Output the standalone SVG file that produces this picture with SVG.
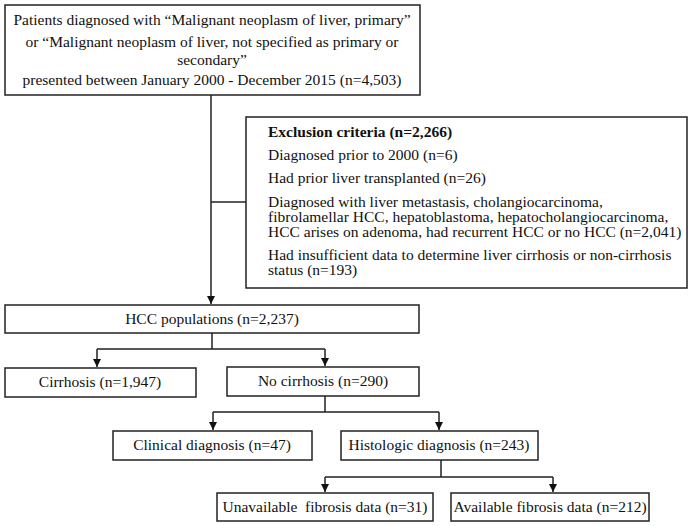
<svg xmlns="http://www.w3.org/2000/svg" width="692" height="526" viewBox="0 0 692 526">
<style>
.box{fill:#fff;stroke:#222;stroke-width:1.5}
.t{font-family:"Liberation Serif","Times New Roman",serif;font-size:15.5px;fill:#111}
.c{text-anchor:middle}
.b{font-weight:bold}
.ln{fill:none;stroke:#222;stroke-width:1.5}
</style>
<defs>
<marker id="ah" viewBox="0 0 10 10" refX="10" refY="5" markerWidth="8" markerHeight="8" markerUnits="userSpaceOnUse" orient="auto">
<path d="M0,0 L10,5 L0,10 z" fill="#111"/>
</marker>
</defs>
<rect width="692" height="526" fill="#fff"/>
<g id="connectors">
<path class="ln" d="M211,95 V304" marker-end="url(#ah)"/>
<path class="ln" d="M211,202 H246"/>
<path class="ln" d="M212,333 V349 M97,349 H325"/>
<path class="ln" d="M97,349 V367" marker-end="url(#ah)"/>
<path class="ln" d="M325,349 V366" marker-end="url(#ah)"/>
<path class="ln" d="M325,396 V412 M213,412 H439"/>
<path class="ln" d="M213,412 V430" marker-end="url(#ah)"/>
<path class="ln" d="M439,412 V430" marker-end="url(#ah)"/>
<path class="ln" d="M441,460 V477 M325,477 H553"/>
<path class="ln" d="M325,477 V492" marker-end="url(#ah)"/>
<path class="ln" d="M553,477 V492" marker-end="url(#ah)"/>
</g>
<g id="source">
<rect class="box" x="5" y="5" width="415" height="90"/>
<text class="t c" x="212" y="25">Patients diagnosed with “Malignant neoplasm of liver, primary”</text>
<text class="t c" x="212" y="47">or “Malignant neoplasm of liver, not specified as primary or</text>
<text class="t c" x="212" y="65">secondary”</text>
<text class="t c" x="212" y="85">presented between January 2000 - December 2015 (n=4,503)</text>
</g>
<g id="exclusion">
<rect class="box" x="246" y="117" width="441" height="171"/>
<text class="t b" x="268" y="137">Exclusion criteria (n=2,266)</text>
<text class="t" x="268" y="160">Diagnosed prior to 2000 (n=6)</text>
<text class="t" x="268" y="183">Had prior liver transplanted (n=26)</text>
<text class="t" x="268" y="207">Diagnosed with liver metastasis, cholangiocarcinoma,</text>
<text class="t" x="268" y="222">fibrolamellar HCC, hepatoblastoma, hepatocholangiocarcinoma,</text>
<text class="t" x="268" y="237">HCC arises on adenoma, had recurrent HCC or no HCC (n=2,041)</text>
<text class="t" x="268" y="260">Had insufficient data to determine liver cirrhosis or non-cirrhosis</text>
<text class="t" x="268" y="275">status (n=193)</text>
</g>
<g id="hcc">
<rect class="box" x="5" y="305" width="414" height="28"/>
<text class="t c" x="212" y="324">HCC populations (n=2,237)</text>
</g>
<g id="cirrhosis">
<rect class="box" x="5" y="368" width="191" height="29"/>
<text class="t c" x="100" y="387">Cirrhosis (n=1,947)</text>
</g>
<g id="nocirrhosis">
<rect class="box" x="227" y="367" width="192" height="29"/>
<text class="t c" x="323" y="386">No cirrhosis (n=290)</text>
</g>
<g id="clinical">
<rect class="box" x="113" y="431" width="199" height="29"/>
<text class="t c" x="212" y="450">Clinical diagnosis (n=47)</text>
</g>
<g id="histologic">
<rect class="box" x="341" y="431" width="197" height="29"/>
<text class="t c" x="439" y="450">Histologic diagnosis (n=243)</text>
</g>
<g id="unavailable">
<rect class="box" x="217" y="493" width="216" height="28"/>
<text class="t c" x="325" y="512" xml:space="preserve">Unavailable  fibrosis data (n=31)</text>
</g>
<g id="available">
<rect class="box" x="451" y="493" width="198" height="28"/>
<text class="t c" x="550" y="512">Available fibrosis data (n=212)</text>
</g>
</svg>
